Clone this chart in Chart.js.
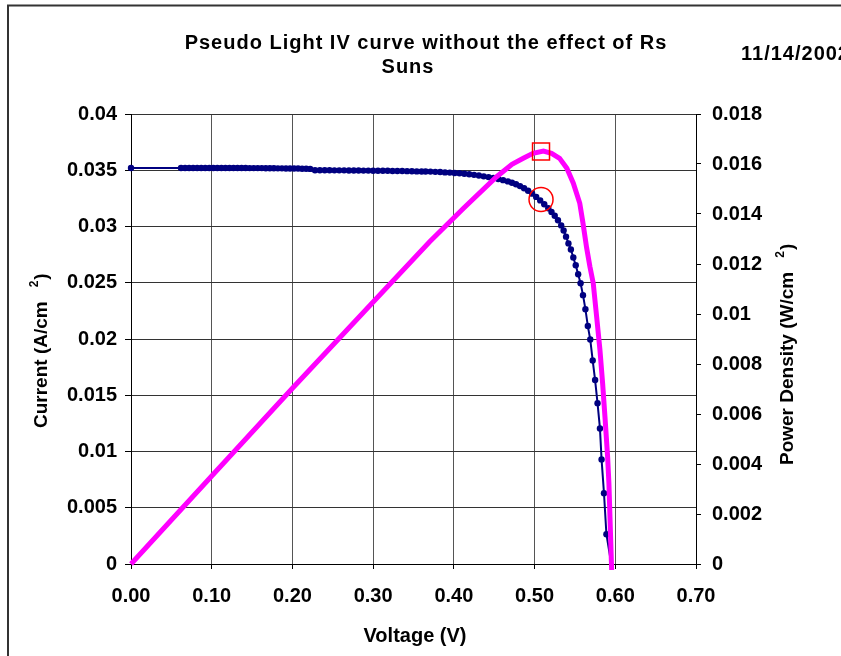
<!DOCTYPE html>
<html>
<head>
<meta charset="utf-8">
<script src="https://cdn.jsdelivr.net/npm/chart.js@4/dist/chart.umd.min.js"></script>
<style>
  html, body { margin: 0; padding: 0; background: #fff; }
  canvas { display: block; }
</style>
</head>
<body>
<canvas id="ivChart" width="841" height="656"></canvas>
<script>
// IV sweep: voltage (V) and current density (A/cm2)
const voltage = [
  0.000,
  0.062, 0.067, 0.072, 0.077, 0.082, 0.087, 0.092, 0.097, 0.102, 0.107, 0.112,
  0.117, 0.122, 0.127, 0.132, 0.137, 0.142, 0.147, 0.152, 0.157, 0.162, 0.167,
  0.172, 0.177, 0.182, 0.187, 0.192, 0.197, 0.202, 0.207, 0.212, 0.217, 0.222,
  0.228, 0.234, 0.240, 0.246, 0.252, 0.258, 0.264, 0.270, 0.276, 0.282, 0.288,
  0.294, 0.300, 0.306, 0.312, 0.318, 0.324, 0.330, 0.336, 0.342, 0.348, 0.354,
  0.360, 0.365,
  0.371, 0.377, 0.383, 0.389, 0.395, 0.401, 0.407, 0.413, 0.419, 0.425, 0.431,
  0.437, 0.443, 0.449, 0.455, 0.461, 0.467, 0.472, 0.477, 0.482, 0.487, 0.492,
  0.497, 0.502, 0.507, 0.512, 0.517, 0.521, 0.525, 0.529, 0.533, 0.536, 0.539,
  0.542, 0.545, 0.548, 0.551, 0.554, 0.557, 0.560, 0.563, 0.566, 0.569, 0.572,
  0.575, 0.578, 0.581, 0.583, 0.586, 0.589, 0.596
];
const current = [
  0.03520,
  0.03520, 0.03520, 0.03520, 0.03520, 0.03520, 0.03520, 0.03520, 0.03520, 0.03520, 0.03520, 0.03520,
  0.03520, 0.03520, 0.03520, 0.03520, 0.03520, 0.03520, 0.03519, 0.03519, 0.03519, 0.03519, 0.03518,
  0.03518, 0.03518, 0.03517, 0.03517, 0.03516, 0.03516, 0.03515, 0.03515, 0.03514, 0.03513, 0.03512,
  0.03500, 0.03500, 0.03500, 0.03500, 0.03499, 0.03499, 0.03499, 0.03498, 0.03498, 0.03498, 0.03497,
  0.03497, 0.03496, 0.03496, 0.03495, 0.03495, 0.03494, 0.03494, 0.03493, 0.03492, 0.03491, 0.03490,
  0.03489, 0.03489,
  0.03488, 0.03486, 0.03484, 0.03481, 0.03479, 0.03476, 0.03473, 0.03469, 0.03464, 0.03459, 0.03453,
  0.03446, 0.03439, 0.03431, 0.03422, 0.03412, 0.03401, 0.03389, 0.03375, 0.03359, 0.03340, 0.03318,
  0.03292, 0.03263, 0.03232, 0.03198, 0.03162, 0.03130, 0.03095, 0.03055, 0.03010, 0.02965, 0.02910,
  0.02850, 0.02795, 0.02725, 0.02655, 0.02575, 0.02495, 0.02390, 0.02265, 0.02115, 0.01995, 0.01810,
  0.01635, 0.01430, 0.01205, 0.00930, 0.00630, 0.00265, -0.00040
];

// power density curve (W/cm2)
const powerVoltage = [
  0.000, 0.100, 0.200, 0.300, 0.370, 0.412, 0.453, 0.472, 0.486, 0.498,
  0.511, 0.521, 0.531, 0.540, 0.548, 0.556, 0.560, 0.5645, 0.5686, 0.5727,
  0.5769, 0.581, 0.5843, 0.5872, 0.5905, 0.5921, 0.5934, 0.5955
];
const power = [
  0.00000, 0.00352, 0.00703, 0.01048, 0.01289, 0.01423, 0.01549, 0.01599, 0.01623, 0.01643,
  0.01652, 0.01643, 0.01623, 0.01583, 0.01523, 0.01443, 0.01363, 0.01265, 0.01189, 0.01123,
  0.00989, 0.00856, 0.00723, 0.00589, 0.00429, 0.00323, 0.00189, -0.00024
];

// maximum power point
const mppVoltage = 0.508;
const mppCurrent = 0.0324;
const mppPower = 0.0165;

const voltageTicks = ['0.00', '0.10', '0.20', '0.30', '0.40', '0.50', '0.60', '0.70'];
const currentTicks = ['0', '0.005', '0.01', '0.015', '0.02', '0.025', '0.03', '0.035', '0.04'];
const powerTicks = ['0', '0.002', '0.004', '0.006', '0.008', '0.01', '0.012', '0.014', '0.016', '0.018'];

const FONT = "'Liberation Sans', Arial, sans-serif";

function drawVerticalTitle(ctx, x, yBottom, main, sup, tail) {
  ctx.save();
  ctx.translate(x, yBottom);
  ctx.rotate(-Math.PI / 2);
  ctx.textAlign = 'left';
  ctx.textBaseline = 'middle';
  ctx.font = `bold 19px ${FONT}`;
  ctx.fillText(main, 0, 0);
  let w = ctx.measureText(main).width + 14;
  ctx.font = `bold 12px ${FONT}`;
  ctx.fillText(sup, w, -7);
  w += ctx.measureText(sup).width + 1;
  ctx.font = `bold 19px ${FONT}`;
  ctx.fillText(tail, w, 0);
  ctx.restore();
}

const frameAndText = {
  id: 'frameAndText',
  beforeDraw(chart) {
    const ctx = chart.ctx;
    ctx.save();
    ctx.fillStyle = '#fff';
    ctx.fillRect(0, 0, chart.width, chart.height);
    ctx.strokeStyle = '#333';
    ctx.lineWidth = 2;
    ctx.beginPath();
    ctx.moveTo(8, chart.height);
    ctx.lineTo(8, 5.5);
    ctx.lineTo(chart.width, 5.5);
    ctx.stroke();
    ctx.restore();
  },
  afterDraw(chart) {
    const ctx = chart.ctx;
    ctx.save();
    ctx.fillStyle = '#000';
    ctx.textBaseline = 'alphabetic';
    ctx.font = `bold 20px ${FONT}`;
    ctx.letterSpacing = '1px';
    ctx.textAlign = 'center';
    ctx.fillText('Pseudo Light IV curve without the effect of Rs', 426, 49);
    ctx.fillText('Suns', 408, 73);
    ctx.textAlign = 'left';
    ctx.fillText('11/14/2002', 741, 60);
    ctx.letterSpacing = '0px';
    ctx.font = `bold 20px ${FONT}`;
    ctx.textAlign = 'center';
    ctx.fillText('Voltage (V)', 415, 642);
    ctx.restore();

    drawVerticalTitle(ctx, 42, 428, 'Current (A/cm', '2', ')');
    drawVerticalTitle(ctx, 788, 465, 'Power Density (W/cm', '2', ')');
  }
};

const tickFont = { family: FONT, size: 20, weight: 'bold' };

new Chart(document.getElementById('ivChart'), {
  type: 'line',
  data: {
    datasets: [
      {
        label: 'Power',
        data: powerVoltage.map((v, i) => ({ x: v, y: power[i] })),
        yAxisID: 'y2',
        borderColor: '#ff00ff',
        borderWidth: 5,
        pointRadius: 0,
        tension: 0,
        order: 1,
        clip: { left: 5, top: 5, right: 5, bottom: 12 }
      },
      {
        label: 'Current',
        data: voltage.map((v, i) => ({ x: v, y: current[i] })),
        yAxisID: 'y',
        borderColor: '#000080',
        borderWidth: 2,
        pointRadius: 3.2,
        pointBackgroundColor: '#000080',
        pointBorderWidth: 0,
        tension: 0,
        order: 2,
        clip: { left: 5, top: 5, right: 5, bottom: 12 }
      },
      {
        label: 'Pmax',
        data: [{ x: mppVoltage, y: mppPower }],
        yAxisID: 'y2',
        showLine: false,
        pointStyle: 'rect',
        pointRadius: 12,
        pointBorderColor: '#ff0000',
        pointBackgroundColor: 'rgba(0,0,0,0)',
        pointBorderWidth: 1.5,
        order: 0
      },
      {
        label: 'Imp',
        data: [{ x: mppVoltage, y: mppCurrent }],
        yAxisID: 'y',
        showLine: false,
        pointStyle: 'circle',
        pointRadius: 12,
        pointBorderColor: '#ff0000',
        pointBackgroundColor: 'rgba(0,0,0,0)',
        pointBorderWidth: 1.5,
        order: 0
      }
    ]
  },
  options: {
    responsive: false,
    animation: false,
    layout: { padding: { top: 114, left: 0, right: 0, bottom: 0 } },
    plugins: {
      legend: { display: false },
      tooltip: { enabled: false },
      title: { display: false }
    },
    scales: {
      x: {
        type: 'linear',
        position: 'bottom',
        min: 0,
        max: 0.7,
        ticks: {
          stepSize: 0.1,
          color: '#000',
          font: tickFont,
          padding: 15,
          maxRotation: 0,
          callback: (v, i) => voltageTicks[i]
        },
        grid: { color: '#555', tickColor: '#000', tickLength: 5 },
        border: { color: '#000', width: 1 },
        afterFit: (s) => { s.height = 92; }
      },
      y: {
        position: 'left',
        min: 0,
        max: 0.04,
        ticks: {
          stepSize: 0.005,
          color: '#000',
          font: tickFont,
          padding: 8,
          callback: (v, i) => currentTicks[i]
        },
        grid: { color: '#333', tickColor: '#000', tickLength: 6 },
        border: { color: '#000', width: 1 },
        afterFit: (s) => { s.width = 131; }
      },
      y2: {
        position: 'right',
        min: 0,
        max: 0.018,
        ticks: {
          stepSize: 0.002,
          color: '#000',
          font: tickFont,
          padding: 11,
          callback: (v, i) => powerTicks[i]
        },
        grid: { drawOnChartArea: false, tickColor: '#000', tickLength: 5 },
        border: { color: '#000', width: 1 },
        afterFit: (s) => { s.width = 145; }
      }
    }
  },
  plugins: [frameAndText]
});
</script>
</body>
</html>
